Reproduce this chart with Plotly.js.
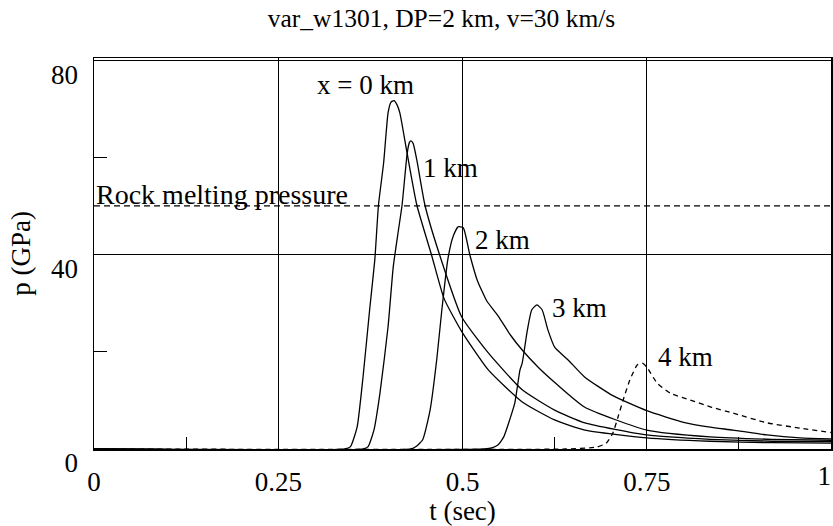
<!DOCTYPE html>
<html>
<head>
<meta charset="utf-8">
<script src="https://cdn.plot.ly/plotly-3.0.1.min.js"></script>
<style>html,body{margin:0;padding:0;background:#fff;}#chart{width:833px;height:526px;}</style>
</head>
<body>
<div id="chart"></div>
<script>
// ---- data ----
const t0 = [0, 0.340, 0.348, 0.357, 0.365, 0.374, 0.381, 0.386, 0.393, 0.399, 0.403, 0.407, 0.411, 0.415, 0.424, 0.438, 0.458, 0.475, 0.499, 0.535, 0.581, 0.625, 0.666, 0.75, 0.836, 0.92, 1.0];
const p0 = [0, 0, 0.5, 4.5, 14.8, 28.7, 39, 50.3, 59, 69.3, 71.5, 71.8, 71.0, 69.3, 61.7, 50.3, 40, 31, 24.2, 16.3, 9.7, 6.0, 3.9, 2.3, 1.6, 1.3, 1.2];

const t1 = [0, 0.365, 0.372, 0.380, 0.388, 0.399, 0.406, 0.412, 0.418, 0.425, 0.428, 0.430, 0.433, 0.438, 0.449, 0.469, 0.499, 0.535, 0.581, 0.625, 0.666, 0.75, 0.836, 0.92, 1.0];
const p1 = [0, 0, 0.5, 4, 11.5, 25.2, 37.5, 44, 50.3, 61, 63.2, 63.5, 63, 59.6, 50.3, 40, 27.2, 19.8, 12.2, 8.0, 5.4, 2.9, 2.0, 1.6, 1.5];

const t2 = [0, 0.430, 0.437, 0.446, 0.456, 0.465, 0.472, 0.480, 0.487, 0.494, 0.501, 0.510, 0.520, 0.533, 0.548, 0.565, 0.581, 0.603, 0.626, 0.666, 0.75, 0.836, 0.92, 1.0];
const p2 = [0, 0, 0.5, 1.9, 8.0, 18.4, 28.7, 39, 43.7, 45.8, 45.6, 40, 34.8, 30.5, 27.5, 23.5, 20.4, 16.8, 13.6, 8.6, 3.9, 2.5, 2.0, 1.8];

const t3 = [0, 0.530, 0.541, 0.548, 0.556, 0.564, 0.571, 0.578, 0.581, 0.588, 0.594, 0.601, 0.608, 0.616, 0.625, 0.643, 0.666, 0.704, 0.75, 0.80, 0.836, 0.867, 0.913, 0.958, 1.0];
const p3 = [0, 0, 0.3, 0.8, 2.5, 6, 9.5, 16.3, 17.7, 24.5, 28.7, 29.7, 28.7, 24.5, 21.0, 18.4, 14.8, 11.0, 7.9, 5.5, 4.5, 3.9, 2.9, 2.3, 2.1];

const t4 = [0, 0.640, 0.682, 0.695, 0.704, 0.711, 0.718, 0.727, 0.737, 0.744, 0.750, 0.764, 0.782, 0.809, 0.836, 0.867, 0.913, 0.958, 1.0];
const p4 = [0, 0, 0.4, 1.2, 3.3, 6.6, 10.1, 14.2, 17.3, 17.7, 16.9, 13.6, 11.5, 10.1, 8.7, 7.4, 5.4, 4.3, 3.4];

const rockT = [0, 1];
const rockP = [50.1, 50.1];

const xTickVals = [0, 0.25, 0.5, 0.75, 1];
const xTickText = ['0', '0.25', '0.5', '0.75', '1'];
const yTickVals = [0, 40, 80];
const yTickText = ['0', '40', '80'];

const labels = ['x = 0 km', '1 km', '2 km', '3 km', '4 km'];
const labelT = [0.368, 0.484, 0.554, 0.659, 0.803];
const labelP = [75.1, 57.9, 43.1, 29.1, 19.0];

const titleText = 'var_w1301, DP=2 km, v=30 km/s';
const xTitle = 't (sec)';
const yTitle = 'p (GPa)';
const rockLabel = 'Rock melting pressure';

// ---- chart ----
const FONT = 'Liberation Serif';
const FS = 27;
const solid = {color: '#000', width: 1.3, shape: 'spline', smoothing: 0.5};
const traces = [
  {x: t0, y: p0, mode: 'lines', line: solid},
  {x: t1, y: p1, mode: 'lines', line: solid},
  {x: t2, y: p2, mode: 'lines', line: solid},
  {x: t3, y: p3, mode: 'lines', line: solid},
  {x: t4, y: p4, mode: 'lines', line: {color: '#000', width: 1.3, dash: '5px,4px', shape: 'spline', smoothing: 0.5}},
  {x: rockT, y: rockP, xaxis: 'x2', mode: 'lines', line: {color: '#000', width: 1.3, dash: '6px,4px'}}
];

const annotations = labels.map((s, i) => ({
  x: labelT[i], y: labelP[i], xref: 'x', yref: 'y', text: s, showarrow: false,
  xanchor: 'center', yanchor: 'middle', font: {family: FONT, size: FS, color: '#000'}
}));
annotations.push({x: 0, y: 52.4, xref: 'x', yref: 'y', text: rockLabel, showarrow: false,
  xanchor: 'left', yanchor: 'middle', font: {family: FONT, size: 28, color: '#000'}});

const nMain = xTickVals.length - 1;
const layout = {
  width: 833, height: 526,
  margin: {l: 94, r: 2, t: 58, b: 77, pad: 0},
  paper_bgcolor: '#fff', plot_bgcolor: '#fff',
  showlegend: false,
  font: {family: FONT, color: '#000', size: FS},
  title: {text: titleText, font: {family: FONT, size: 25.5, color: '#000'}, x: 0.53, xanchor: 'center', y: 0.965, yanchor: 'middle'},
  xaxis: {
    range: [0, 1], autorange: false, fixedrange: true,
    tickmode: 'array', tickvals: xTickVals.slice(0, nMain), ticktext: xTickText.slice(0, nMain),
    ticks: '', showgrid: true, gridcolor: '#000', gridwidth: 1,
    zeroline: false, showline: true, linecolor: '#000', linewidth: 1.5, mirror: true,
    ticklabelstandoff: 8,
    tickfont: {family: FONT, size: FS, color: '#000'},
    minor: {tickvals: [0.125, 0.625, 0.875], ticks: 'inside', ticklen: 12, tickcolor: '#000', tickwidth: 1, showgrid: false},
    title: {text: xTitle, font: {family: FONT, size: FS, color: '#000'}, standoff: 0}
  },
  xaxis2: {
    overlaying: 'x', side: 'bottom', anchor: 'y',
    range: [0, 1], autorange: false, fixedrange: true,
    tickmode: 'array', tickvals: xTickVals.slice(nMain), ticktext: xTickText.slice(nMain),
    ticklabelposition: 'outside left',
    ticks: '', showgrid: false, zeroline: false, showline: false,
    ticklabelstandoff: 8,
    tickfont: {family: FONT, size: FS, color: '#000'}
  },
  yaxis: {
    range: [0, 80.6], autorange: false, fixedrange: true,
    tickmode: 'array', tickvals: yTickVals, ticktext: yTickText,
    ticks: '', showgrid: true, gridcolor: '#000', gridwidth: 1,
    zeroline: false, showline: true, linecolor: '#000', linewidth: 1.5, mirror: true,
    ticklabelstandoff: 9, ticklabelshift: 14, ticklabeloverflow: 'allow',
    tickfont: {family: FONT, size: FS, color: '#000'},
    minor: {tickvals: [20, 60], ticks: 'inside', ticklen: 13, tickcolor: '#000', tickwidth: 1, showgrid: false},
    title: {text: yTitle, font: {family: FONT, size: FS, color: '#000'}, standoff: 12}
  },
  annotations: annotations
};

Plotly.newPlot('chart', traces, layout, {staticPlot: true, displayModeBar: false});
</script>
</body>
</html>
